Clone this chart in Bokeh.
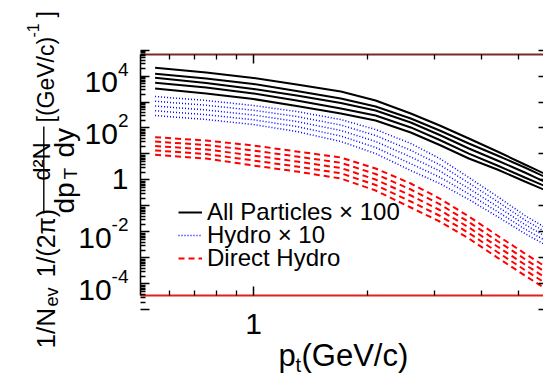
from bokeh.plotting import figure
from bokeh.models import LogAxis, FixedTicker, Label, Legend, LegendItem, BoxAnnotation
from bokeh.embed import file_html
from bokeh.resources import INLINE

# transverse momentum grid (GeV/c)
pt = [0.55, 0.75, 1.0, 1.3, 1.7, 2.1, 2.6, 3.1, 3.7, 4.4, 5.2, 6.0]

# invariant yields, one row per centrality class
all_particles_x100 = [
    [20700, 13600, 8400, 4700, 2540, 1140, 361, 125, 39.4, 12.5, 3.94, 1.49],
    [12100, 8000, 4920, 2650, 1360, 671, 232, 80.2, 25.4, 8.75, 3.03, 1.14],
    [8500, 5380, 3160, 1780, 916, 471, 163, 53.8, 16.3, 5.62, 1.94, 0.733],
    [5470, 3610, 2140, 1140, 562, 303, 105, 34.5, 10.4, 3.61, 1.25, 0.514],
    [3300, 2120, 1300, 702, 361, 195, 67.1, 22.2, 6.71, 2.54, 0.875, 0.361],
]
hydro_x10 = [
    [1630, 1143, 733, 431, 212, 87.5, 25.4, 6.71, 1.25, 0.232, 0.0432, 0.0125],
    [1069, 750, 482, 277, 130, 51.5, 13.9, 3.86, 0.767, 0.149, 0.029, 0.00857],
    [701, 492, 316, 178, 80.2, 30.3, 7.67, 2.22, 0.471, 0.0957, 0.0194, 0.00588],
    [460, 324, 207, 114, 49.2, 17.8, 4.22, 1.28, 0.290, 0.0614, 0.0130, 0.00404],
    [303, 212, 136, 73.3, 30.3, 10.4, 2.32, 0.733, 0.178, 0.0394, 0.00875, 0.00277],
]
direct_hydro = [
    [44.3, 33.0, 21.2, 12.5, 7.33, 2.77, 0.733, 0.194, 0.0394, 0.00733, 0.00149, 0.000394],
    [30.0, 22.2, 13.6, 8.02, 4.60, 1.70, 0.431, 0.117, 0.0242, 0.00450, 0.000914, 0.000242],
    [20.3, 14.9, 8.75, 5.14, 2.89, 1.04, 0.253, 0.0702, 0.0149, 0.00277, 0.000562, 0.000149],
    [13.7, 10.0, 5.62, 3.30, 1.82, 0.641, 0.149, 0.0422, 0.00914, 0.00170, 0.000345, 0.0000914],
    [9.31, 6.71, 3.61, 2.12, 1.14, 0.394, 0.0875, 0.0253, 0.00562, 0.00104, 0.000212, 0.0000562],
]
series_labels = ["All Particles \u00d7 100", "Hydro \u00d7 10", "Direct Hydro"]

x_major = [1]
x_minor = [0.6, 0.7, 0.8, 0.9, 2, 3, 4, 5]
y_decades = [10.0 ** d for d in range(-5, 6)]
y_minor = [k * 10.0 ** d for d in range(-5, 5) for k in range(2, 10)]
y_labelled = [(1e4, "4"), (1e2, "2"), (1e-2, "-2"), (1e-4, "-4")]
x_labelled = [(1, "1")]

FONT = "Liberation Sans"
W, H = 543, 376

# axis box (data units); the page around it holds the titles
X_LO, X_HI = 0.503, 5.824
Y_LO, Y_HI = 3.6e-5, 6.7e4

# the drawing area covers the whole page; the box is drawn by axes pinned to its edges
p = figure(width=W, height=H, x_axis_type="log", y_axis_type="log",
           x_range=(0.2150, 5.824), y_range=(2.768e-8, 8.015e6),
           output_backend="svg", toolbar_location=None,
           min_border=0, min_border_left=0, min_border_right=0,
           min_border_top=0, min_border_bottom=0)
p.outline_line_color = None
p.grid.visible = False
p.background_fill_color = "white"
p.border_fill_color = "white"

top = LogAxis()
right = LogAxis()
p.add_layout(top, "above")
p.add_layout(right, "right")
bottom, left = p.below[0], p.left[0]

for ax, loc in ((bottom, Y_LO), (top, Y_HI)):
    ax.fixed_location = loc
    ax.bounds = (X_LO, X_HI)
    ax.ticker = FixedTicker(ticks=x_major, minor_ticks=x_minor)
    ax.major_tick_in = 9
    ax.minor_tick_in = 5
for ax, loc in ((left, X_LO), (right, X_HI)):
    ax.fixed_location = loc
    ax.bounds = (Y_LO, Y_HI)
    ax.ticker = FixedTicker(ticks=y_decades, minor_ticks=y_minor)
    ax.minor_tick_in = 5
for ax in (bottom, top, left, right):
    ax.major_tick_out = 0
    ax.minor_tick_out = 0
    ax.major_tick_line_width = 1.5
    ax.minor_tick_line_width = 1.3
    ax.major_label_overrides = {v: "" for v in ax.ticker.ticks}
    ax.major_label_standoff = 0

left.major_tick_in = 9
left.axis_line_color = "black"
left.axis_line_width = 1.5
right.major_tick_in = 5
right.minor_tick_line_color = None
right.axis_line_color = None
bottom.axis_line_color = "#e02020"
bottom.axis_line_width = 2
top.axis_line_color = "#7a2a2a"
top.axis_line_width = 2

renderers = []
for rows, color, dash, width in ((all_particles_x100, "black", "solid", 2),
                                 (hydro_x10, "#0000ff", "1 2", 1.5),
                                 (direct_hydro, "#ff0000", "6 4", 2)):
    group = [p.line(pt, row, line_color=color, line_dash=dash, line_width=width) for row in rows]
    renderers.append(group[0])

# one single-entry legend per series so the rows can sit closer than the text height
for i, (lab, r) in enumerate(zip(series_labels, renderers)):
    leg = Legend(items=[LegendItem(label=lab, renderers=[r])],
                 location=(178, 150 - 23 * i), padding=0, margin=0, spacing=0,
                 glyph_width=24, glyph_height=20, label_height=20, label_standoff=5,
                 label_text_font=FONT, label_text_font_size="24px", label_text_color="black",
                 background_fill_alpha=0, border_line_alpha=0)
    p.add_layout(leg)


def put(text, X, Y, size, angle=0, align="left", baseline="alphabetic",
        x_data=None, y_data=None, x_offset=0, y_offset=0):
    """Place a text with its anchor at page pixel (X, Y), measured from the top-left."""
    kw = dict(text=text, text_font=FONT, text_font_size=f"{size}px",
              text_align=align, text_baseline=baseline, angle=angle, angle_units="deg",
              text_color="black", x_offset=x_offset, y_offset=y_offset)
    if x_data is None:
        kw.update(x=X, x_units="screen")
    else:
        kw.update(x=x_data, x_units="data")
    if y_data is None:
        kw.update(y=H - Y, y_units="screen")
    else:
        kw.update(y=y_data, y_units="data")
    p.add_layout(Label(**kw))


# y tick labels: 10 with raised exponent, right aligned against the axis
for val, exp in y_labelled:
    put(exp, 128, 0, 19, align="right", baseline="middle", y_data=val, y_offset=7)
    base_right = 128 - (10.6 if len(exp) == 1 else 16.9)
    put("10", base_right, 0, 30, align="right", baseline="middle", y_data=val, y_offset=-6)
put("1", 128, 0, 30, align="right", baseline="middle", y_data=1.0, y_offset=1)

# x tick labels
for val, txt in x_labelled:
    put(txt, 0, 323, 30, align="center", baseline="middle", x_data=val)

# x title: p_t(GeV/c)
put("p", 278, 355, 31)
put("t", 295, 364, 20)
put("(GeV/c)", 301, 355, 31)

# y title, rotated: 1/N_ev 1/(2pi) d2N/(dp_T dy) [(GeV/c)^-1]
put("1/N", 45, 348, 26, angle=90)
put("ev", 51, 306, 18, angle=90)
put("1/(2\u03c0)", 45, 277, 25, angle=90)
put("d\u00b2N", 41, 161, 24, angle=90, align="center")
p.add_layout(BoxAnnotation(left=42.6, right=44.0, bottom=H - 213, top=H - 126,
                           left_units="screen", right_units="screen",
                           bottom_units="screen", top_units="screen",
                           fill_color="black", fill_alpha=1, line_color=None))
put("dp", 64, 213, 28, angle=90)
put("T", 70, 179, 19, angle=90)
put("dy", 64, 157, 28, angle=90)
put("[(GeV/c)", 45, 122, 23, angle=90)
put("-1", 32, 37, 16, angle=90)
put("]", 45, 17, 23, angle=90)

open("out.html", "w").write(file_html(p, INLINE))
